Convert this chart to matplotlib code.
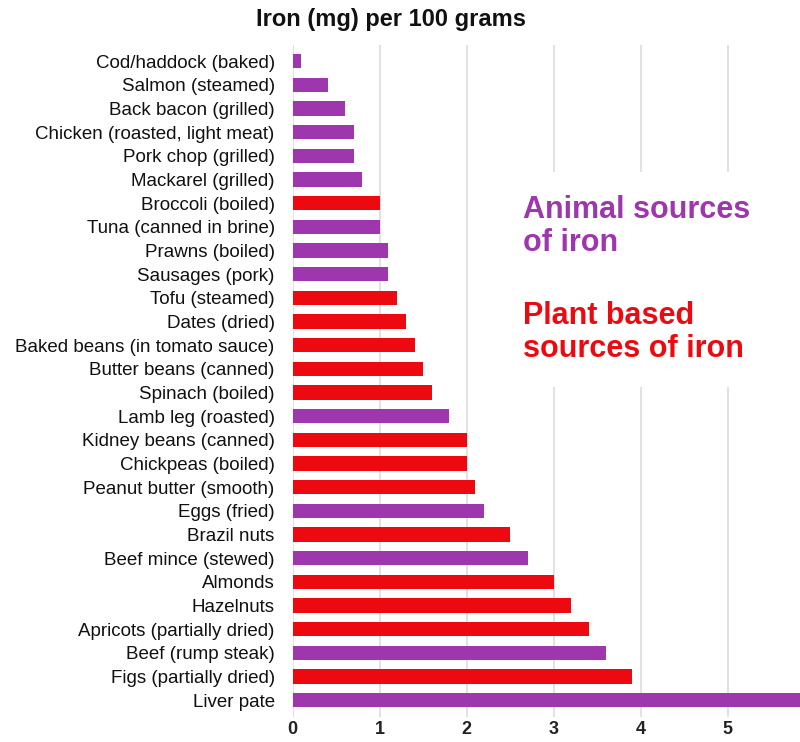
import matplotlib
matplotlib.use("Agg")
from matplotlib import pyplot as plt

foods = ["Cod/haddock (baked)", "Salmon (steamed)", "Back bacon (grilled)",
         "Chicken (roasted, light meat)", "Pork chop (grilled)", "Mackarel (grilled)",
         "Broccoli (boiled)", "Tuna (canned in brine)", "Prawns (boiled)",
         "Sausages (pork)", "Tofu (steamed)", "Dates (dried)",
         "Baked beans (in tomato sauce)", "Butter beans (canned)", "Spinach (boiled)",
         "Lamb leg (roasted)", "Kidney beans (canned)", "Chickpeas (boiled)",
         "Peanut butter (smooth)", "Eggs (fried)", "Brazil nuts",
         "Beef mince (stewed)", "Almonds", "Hazelnuts",
         "Apricots (partially dried)", "Beef (rump steak)", "Figs (partially dried)",
         "Liver pate"]
iron = [0.1, 0.4, 0.6, 0.7, 0.7, 0.8, 1.0, 1.0, 1.1, 1.1, 1.2, 1.3, 1.4, 1.5,
        1.6, 1.8, 2.0, 2.0, 2.1, 2.2, 2.5, 2.7, 3.0, 3.2, 3.4, 3.6, 3.9, 5.9]
source = ["A", "A", "A", "A", "A", "A", "P", "A", "A", "A", "P", "P", "P", "P",
          "P", "A", "P", "P", "P", "A", "P", "A", "P", "P", "P", "A", "P", "A"]
xticks = [0, 1, 2, 3, 4, 5]

PURPLE = "#9E36AE"
RED = "#EC0A10"

plt.rcParams["font.family"] = ["Liberation Sans", "DejaVu Sans"]


def main():
    fig = plt.figure(figsize=(8, 7.42), dpi=100)
    ax = fig.add_axes([0.366, 0.034, 0.634, 0.906])

    colors = [PURPLE if s == "A" else RED for s in source]
    ypos = list(range(len(foods)))
    ax.barh(ypos, iron, height=0.6, color=colors, zorder=2)

    ax.set_yticks(ypos)
    ax.set_yticklabels(foods, fontsize=13.5, color="#111111")
    ax.set_ylim(len(foods) - 0.3, -0.7)
    ax.set_xlim(0, 5.83)
    ax.set_xticks(xticks)
    ax.set_xticklabels([str(t) for t in xticks], fontsize=13, color="#222222",
                       fontweight="bold")
    ax.tick_params(axis="y", length=0, pad=13)
    ax.tick_params(axis="x", length=0, pad=3)

    ax.grid(axis="x", color="#dddddd", linewidth=1.2, zorder=0)
    for s in ax.spines.values():
        s.set_visible(False)

    fig.text(0.489, 0.974, "Iron (mg) per 100 grams", ha="center", va="center",
             fontsize=17, fontweight="bold", color="#111111")

    box = dict(facecolor="white", edgecolor="none", pad=17)
    ax.text(2.65, 7.0, "Animal sources\nof iron", color=PURPLE, fontsize=22,
            fontweight="bold", va="center", ha="left", linespacing=1.12,
            bbox=box, zorder=3)
    ax.text(2.65, 11.45, "Plant based\nsources of iron", color=RED, fontsize=22,
            fontweight="bold", va="center", ha="left", linespacing=1.12,
            bbox=box, zorder=3)

    plt.savefig("out.png")
    plt.close()


if __name__ == "__main__":
    main()
